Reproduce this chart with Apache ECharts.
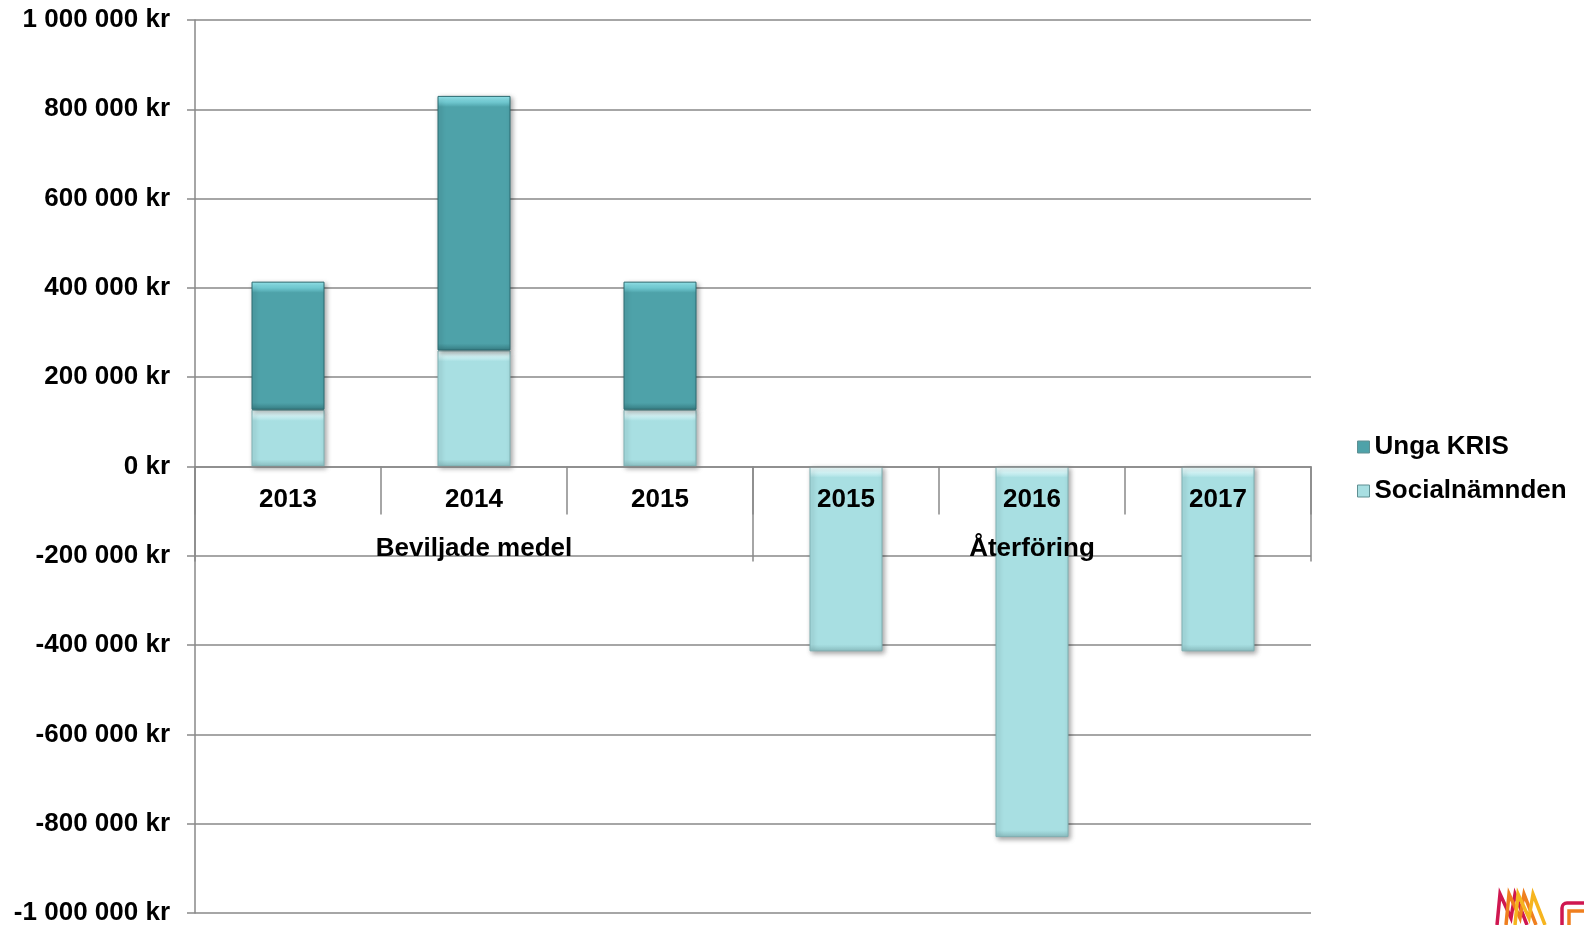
<!DOCTYPE html>
<html>
<head>
<meta charset="utf-8">
<script src="https://cdn.jsdelivr.net/npm/echarts@6/dist/echarts.min.js"></script>
<style>
  html, body { margin: 0; padding: 0; background: #fff; }
  #chart { width: 1584px; height: 925px; }
</style>
</head>
<body>
<div id="chart"></div>
<script>
// ---- data ----
const categories = ['2013', '2014', '2015', '2015', '2016', '2017'];
const groups = ['Beviljade medel', 'Återföring'];
const socialnamnden = [127000, 260000, 127000, -414000, -830000, -414000];
const ungaKris = [287000, 570000, 287000, '-', '-', '-'];
const legendNames = ['Unga KRIS', 'Socialnämnden'];

// ---- style ----
const FONT = 'Liberation Sans, Arial, sans-serif';
const GREY = '#898989';
const FS = 26;
const Y_MIN = -1000000, Y_MAX = 1000000;
const PLOT_TOP = 20, PLOT_BOTTOM = 12;
const PLOT_H = 925 - PLOT_TOP - PLOT_BOTTOM;

function fmtKr(v) {
  const s = Math.abs(v).toString().replace(/\B(?=(\d{3})+(?!\d))/g, ' ');
  return (v < 0 ? '-' : '') + s + ' kr';
}

// bevel-like vertical gradient: light strip at top, darker strip at bottom
function bevel(v, top, mid, base, bottom) {
  if (v === '-' || v == null) return v;
  const px = Math.abs(v) / (Y_MAX - Y_MIN) * PLOT_H;
  const t = Math.min(0.4, 11 / px);
  const b = Math.min(0.4, 7 / px);
  return {
    value: v,
    itemStyle: {
      color: new echarts.graphic.LinearGradient(0, 0, 0, 1, [
        { offset: 0, color: top },
        { offset: t * 0.55, color: mid },
        { offset: t, color: base },
        { offset: 1 - b, color: base },
        { offset: 1, color: bottom }
      ])
    }
  };
}

const zeroBottom = 925 - (PLOT_TOP + PLOT_H * (Y_MAX / (Y_MAX - Y_MIN)));
const gridFull = { left: 195, right: 273, top: PLOT_TOP, bottom: PLOT_BOTTOM, containLabel: false, outerBoundsMode: 'none' };
const gridZero = { left: 195, right: 273, top: PLOT_TOP, bottom: zeroBottom, containLabel: false, outerBoundsMode: 'none' };

const chart = echarts.init(document.getElementById('chart'), null, { renderer: 'canvas' });
chart.setOption({
  backgroundColor: '#ffffff',
  animation: false,
  grid: [gridFull, Object.assign({}, gridZero), Object.assign({}, gridZero)],
  legend: {
    orient: 'vertical',
    left: 1352,
    top: 429,
    icon: 'rect',
    itemWidth: 12,
    itemHeight: 12,
    itemGap: 18,
    itemStyle: { borderWidth: 1, borderColor: '#5f8f92' },
    data: legendNames,
    textStyle: { fontFamily: FONT, fontWeight: 'bold', fontSize: FS, color: '#000' }
  },
  graphic: [
    { type: 'polyline', shape: { points: [[1497, 925], [1500, 894], [1511, 918], [1515, 894], [1527, 925]] }, style: { stroke: '#cf1750', lineWidth: 3.5, fill: null } },
    { type: 'polyline', shape: { points: [[1506, 925], [1509, 894], [1520, 918], [1524, 894], [1536, 925]] }, style: { stroke: '#ef7f1f', lineWidth: 3.5, fill: null } },
    { type: 'polyline', shape: { points: [[1515, 925], [1518, 894], [1529, 918], [1533, 894], [1545, 925]] }, style: { stroke: '#f6b51f', lineWidth: 3.5, fill: null } },
    { type: 'rect', shape: { x: 1562, y: 903, width: 30, height: 30, r: 5 }, style: { stroke: '#cf1750', lineWidth: 3.5, fill: null } },
    { type: 'polyline', shape: { points: [[1569, 925], [1569, 911], [1584, 911]] }, style: { stroke: '#ef7f1f', lineWidth: 3.5, fill: null } }
  ],
  xAxis: [
    {
      type: 'category',
      gridIndex: 0,
      data: categories,
      show: false
    },
    {
      type: 'category',
      gridIndex: 1,
      data: categories,
      position: 'bottom',
      z: 10,
      axisLine: { show: true, onZero: false, lineStyle: { color: GREY, width: 1.5 } },
      axisTick: { show: true, interval: 0, length: 48, lineStyle: { color: GREY, width: 1.5 } },
      axisLabel: { interval: 0, margin: 20, fontFamily: FONT, fontWeight: 'bold', fontSize: FS, color: '#000' },
      splitLine: { show: false }
    },
    {
      type: 'category',
      gridIndex: 2,
      data: groups,
      position: 'bottom',
      z: 11,
      axisLine: { show: false, onZero: false },
      axisTick: { show: true, interval: 0, length: 95, lineStyle: { color: GREY, width: 1.5 } },
      axisLabel: { interval: 0, margin: 69, fontFamily: FONT, fontWeight: 'bold', fontSize: FS, color: '#000' },
      splitLine: { show: false }
    }
  ],
  yAxis: [
    {
      type: 'value',
      gridIndex: 0,
      min: Y_MIN,
      max: Y_MAX,
      interval: 200000,
      axisLine: { show: true, lineStyle: { color: GREY, width: 1.5 } },
      axisTick: { show: true, length: 8, lineStyle: { color: GREY, width: 1.5 } },
      axisLabel: { margin: 25, formatter: fmtKr, fontFamily: FONT, fontWeight: 'bold', fontSize: FS, color: '#000' },
      splitLine: { show: true, lineStyle: { color: GREY, width: 1.5 } }
    },
    { type: 'value', gridIndex: 1, min: 0, max: 1, show: false },
    { type: 'value', gridIndex: 2, min: 0, max: 1, show: false }
  ],
  series: [
    {
      name: 'Socialnämnden',
      type: 'bar',
      stack: 'total',
      xAxisIndex: 0,
      yAxisIndex: 0,
      barWidth: 73,
      data: socialnamnden.map(v => bevel(v, '#f4ffff', '#d2f4f6', '#a8dfe2', '#8cc0c3')),
      itemStyle: {
        color: '#a8dfe2',
        borderColor: '#7fb0b3',
        borderWidth: 1,
        shadowColor: 'rgba(0,0,0,0.35)',
        shadowBlur: 5,
        shadowOffsetX: 2,
        shadowOffsetY: 2
      }
    },
    {
      name: 'Unga KRIS',
      type: 'bar',
      stack: 'total',
      xAxisIndex: 0,
      yAxisIndex: 0,
      barWidth: 73,
      data: ungaKris.map(v => bevel(v, '#9aeef4', '#73cdd5', '#4ea2a9', '#387f85')),
      itemStyle: {
        color: '#4ea2a9',
        borderColor: '#2c6b71',
        borderWidth: 1,
        shadowColor: 'rgba(0,0,0,0.35)',
        shadowBlur: 5,
        shadowOffsetX: 2,
        shadowOffsetY: 2
      }
    }
  ]
});
</script>
</body>
</html>
